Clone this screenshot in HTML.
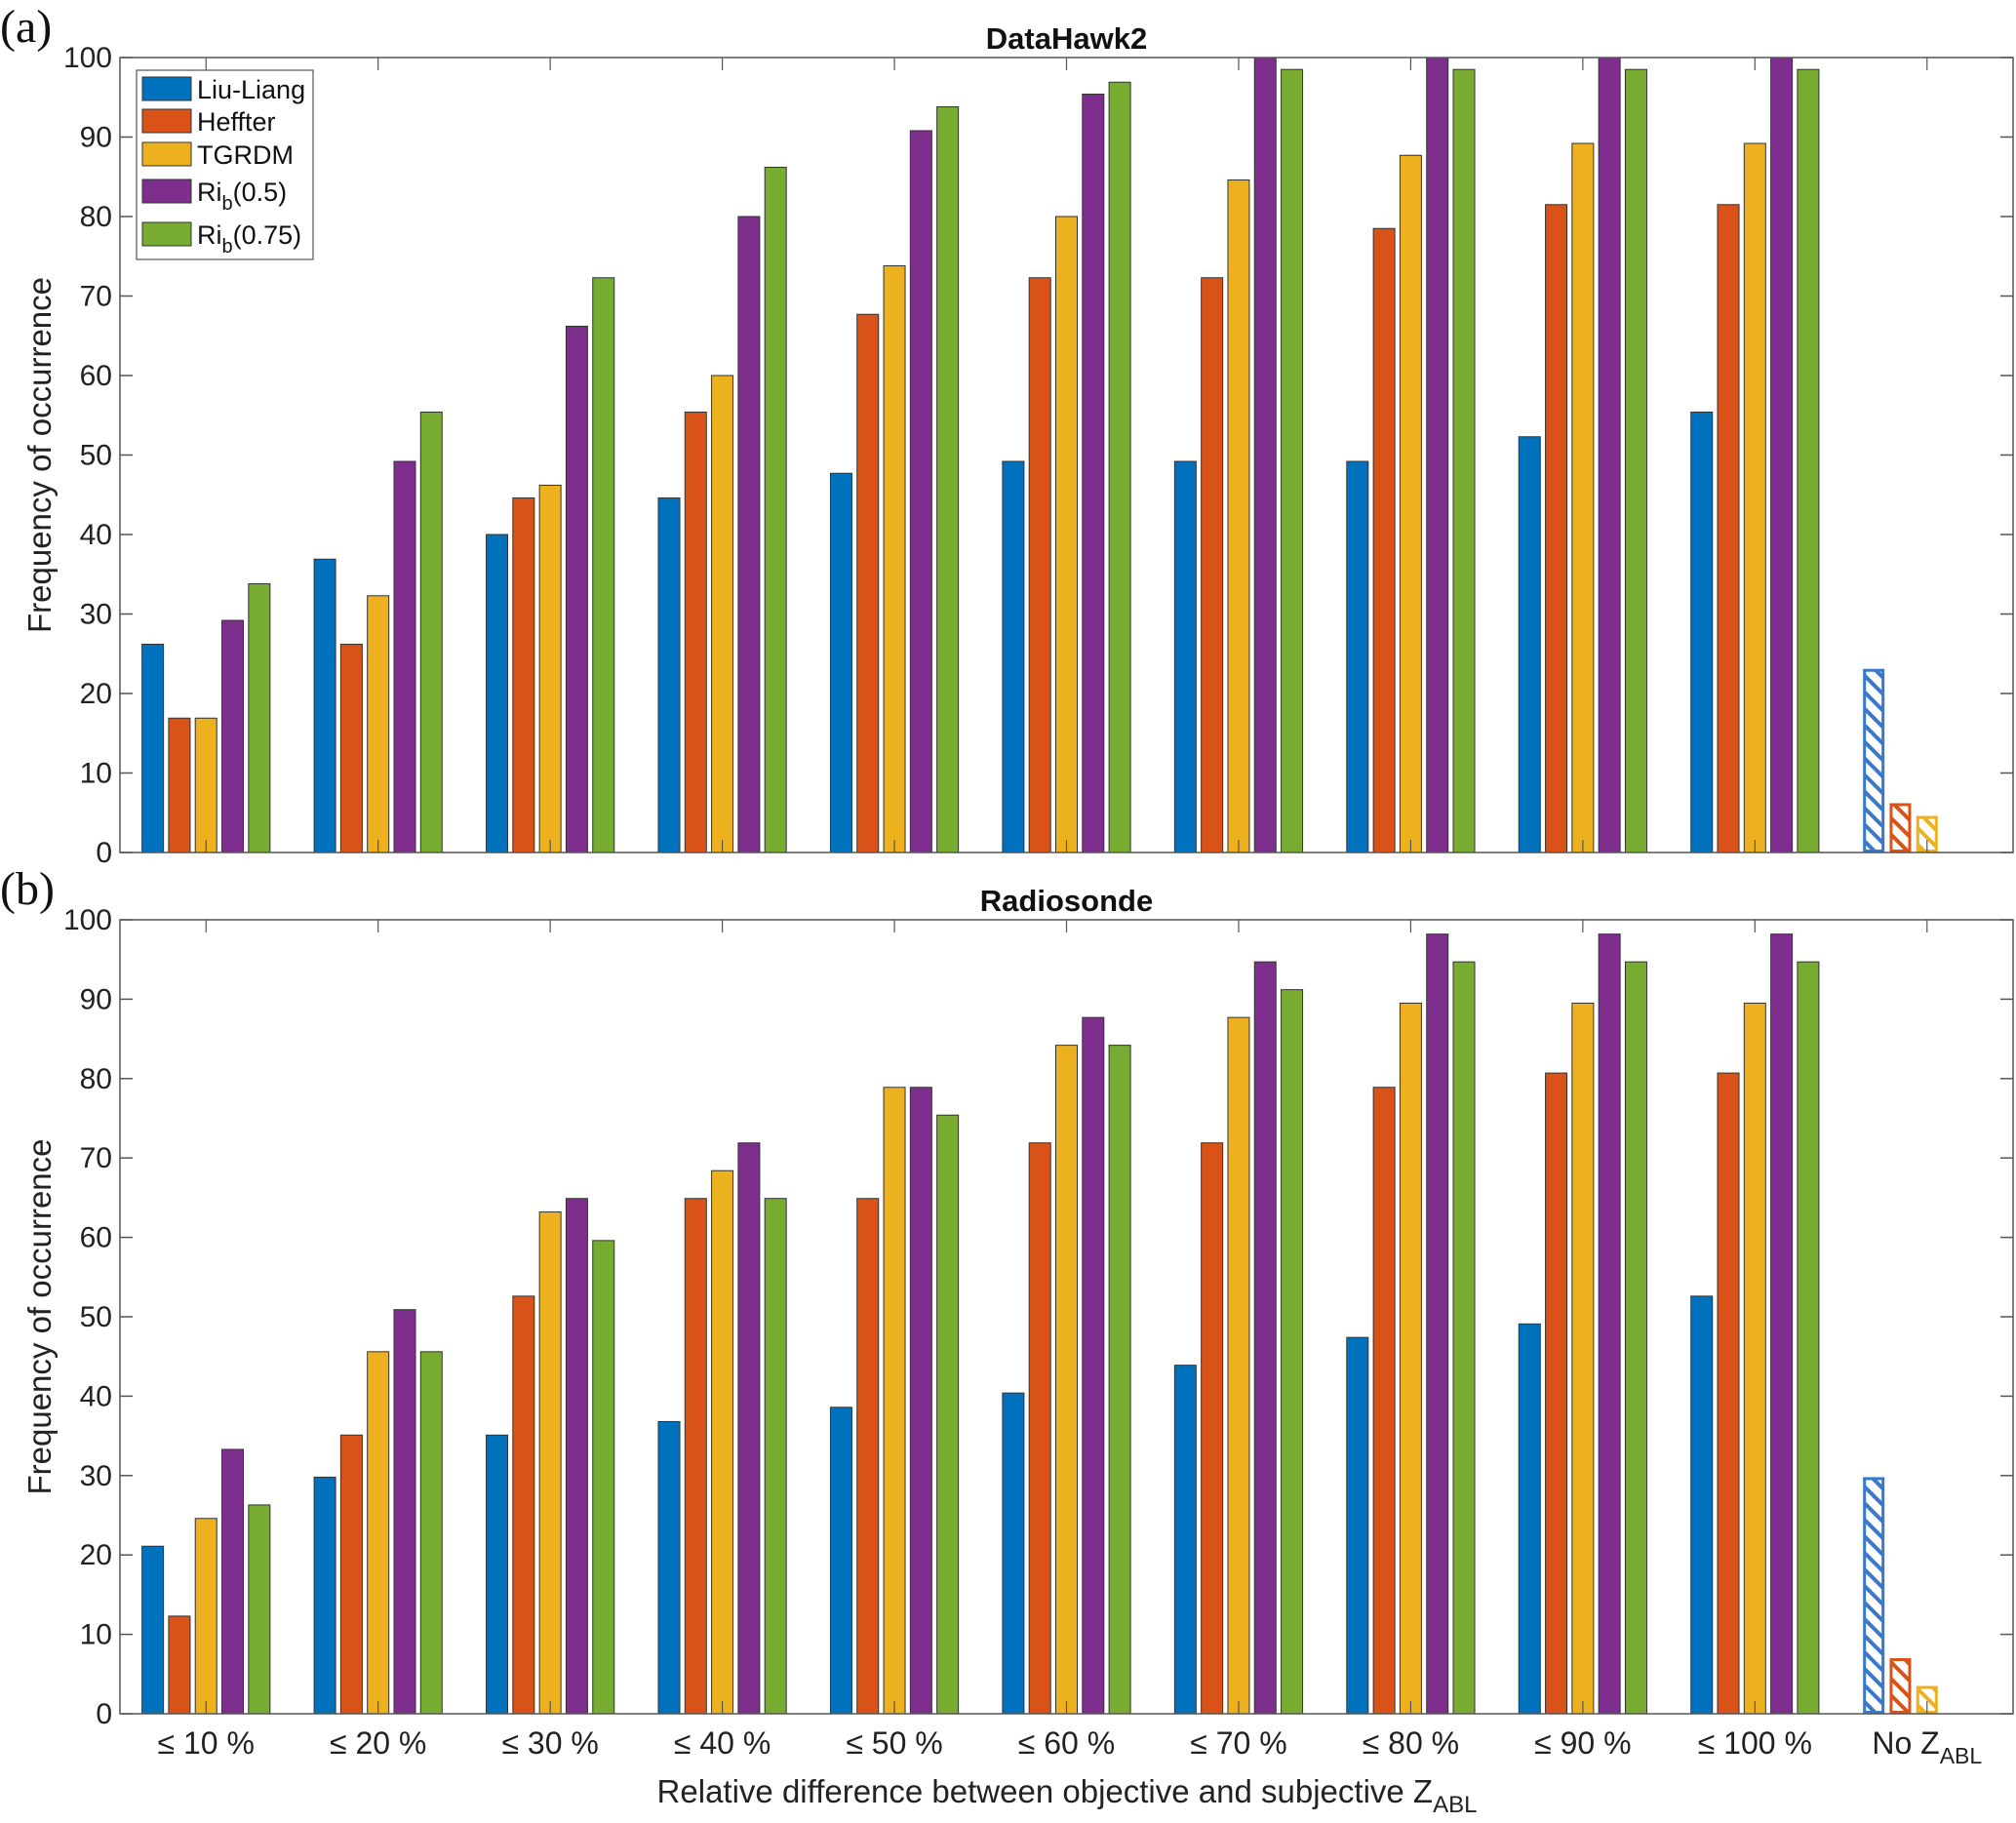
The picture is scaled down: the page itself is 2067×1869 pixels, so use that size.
<!DOCTYPE html>
<html><head><meta charset="utf-8"><style>
body{margin:0;background:#fff;}
svg{display:block;font-family:"Liberation Sans",sans-serif;}
</style></head><body>
<svg id="chart" width="2067" height="1869" viewBox="0 0 2067 1869" xmlns="http://www.w3.org/2000/svg">
<defs>
<pattern id="hatch-blue" patternUnits="userSpaceOnUse" width="12" height="12" patternTransform="rotate(45)"><rect width="12" height="12" fill="#fff"/><rect width="12" height="4" fill="#3a78c9"/></pattern>
<pattern id="hatch-orange" patternUnits="userSpaceOnUse" width="12" height="12" patternTransform="rotate(45)"><rect width="12" height="12" fill="#fff"/><rect width="12" height="4" fill="#D95319"/></pattern>
<pattern id="hatch-yellow" patternUnits="userSpaceOnUse" width="12" height="12" patternTransform="rotate(45)"><rect width="12" height="12" fill="#fff"/><rect width="12" height="4" fill="#EDB120"/></pattern>
</defs>
</svg>
<script>
const categories = ["≤ 10 %","≤ 20 %","≤ 30 %","≤ 40 %","≤ 50 %","≤ 60 %","≤ 70 %","≤ 80 %","≤ 90 %","≤ 100 %","No Z_ABL"];
const seriesNames = ["Liu-Liang","Heffter","TGRDM","Ri_b(0.5)","Ri_b(0.75)"];
const yTicks = [0,10,20,30,40,50,60,70,80,90,100];
// DataHawk2
const dhLiuLiang = [26.2,36.9,40.0,44.6,47.7,49.2,49.2,49.2,52.3,55.4];
const dhHeffter  = [16.9,26.2,44.6,55.4,67.7,72.3,72.3,78.5,81.5,81.5];
const dhTGRDM    = [16.9,32.3,46.2,60.0,73.8,80.0,84.6,87.7,89.2,89.2];
const dhRib05    = [29.2,49.2,66.2,80.0,90.8,95.4,100,100,100,100];
const dhRib075   = [33.8,55.4,72.3,86.2,93.8,96.9,98.5,98.5,98.5,98.5];
const dhNoZ      = [23.1,6.2,4.6];
// Radiosonde
const rsLiuLiang = [21.1,29.8,35.1,36.8,38.6,40.4,43.9,47.4,49.1,52.6];
const rsHeffter  = [12.3,35.1,52.6,64.9,64.9,71.9,71.9,78.9,80.7,80.7];
const rsTGRDM    = [24.6,45.6,63.2,68.4,78.9,84.2,87.7,89.5,89.5,89.5];
const rsRib05    = [33.3,50.9,64.9,71.9,78.9,87.7,94.7,98.2,98.2,98.2];
const rsRib075   = [26.3,45.6,59.6,64.9,75.4,84.2,91.2,94.7,94.7,94.7];
const rsNoZ      = [29.8,7.0,3.5];

const colors=["#0072BD","#D95319","#EDB120","#7E2F8E","#77AC30"];
const hatches=["url(#hatch-blue)","url(#hatch-orange)","url(#hatch-yellow)"];
const hatchEdge=["#3a78c9","#D95319","#EDB120"];
const svg=document.getElementById('chart');
const NS="http://www.w3.org/2000/svg";
function mk(tag,attrs,parent){const e=document.createElementNS(NS,tag);for(const k in attrs)e.setAttribute(k,attrs[k]);(parent||svg).appendChild(e);return e;}
const X0=123,X1=2064;
const xScale=i=>X0+(X1-X0)*(i+0.5)/categories.length;
const pitch=27.3,bw=22;

function panel(top,bottom,title,letter,series,noz,name){
  const g=mk('g',{});
  
  
  const y=v=>bottom-(bottom-top)*v/100;
  mk('rect',{x:X0,y:top,width:X1-X0,height:bottom-top,fill:'#fff',stroke:'none'},g);
  series.forEach((arr,s)=>{
    arr.forEach((v,i)=>{
      const cx=xScale(i)+(s-2)*pitch;
      const r=mk('rect',{x:cx-bw/2,y:y(v),width:bw,height:bottom-y(v),fill:colors[s],stroke:'#333','stroke-width':1},g);
      
      
    });
  });
  noz.forEach((v,s)=>{
    const cx=xScale(10)+(s-2)*pitch;
    const r=mk('rect',{x:cx-bw/2+1.5,y:y(v)+1.5,width:bw-3,height:bottom-y(v)-3,fill:hatches[s],stroke:hatchEdge[s],'stroke-width':3},g);
    
    
  });
  mk('rect',{x:X0,y:top,width:X1-X0,height:bottom-top,fill:'none',stroke:'#555','stroke-width':1.5},g);
  yTicks.forEach(t=>{
    mk('line',{x1:X0,x2:X0+13,y1:y(t),y2:y(t),stroke:'#555','stroke-width':1.5},g);
    mk('line',{x1:X1,x2:X1-13,y1:y(t),y2:y(t),stroke:'#555','stroke-width':1.5},g);
    const tl=mk('text',{x:115,y:y(t)+10,'text-anchor':'end','font-size':30,fill:'#222'},g);
    tl.textContent=t;
    
    
  });
  categories.forEach((c,i)=>{
    mk('line',{x1:xScale(i),x2:xScale(i),y1:bottom,y2:bottom-13,stroke:'#555','stroke-width':1.2},g);
    mk('line',{x1:xScale(i),x2:xScale(i),y1:top,y2:top+13,stroke:'#555','stroke-width':1.2},g);
  });
  const tt=mk('text',{x:(X0+X1)/2,y:top-9,'text-anchor':'middle','font-size':31,'font-weight':'bold',fill:'#111'},g);
  tt.textContent=title;
  
  
  const lt=mk('text',{x:0,y:top-16,'font-size':48,'font-family':'Liberation Serif, serif',fill:'#111'},g);
  lt.textContent=letter;
  
  
  const yl=mk('text',{x:0,y:0,transform:`translate(52,${(top+bottom)/2}) rotate(-90)`,'text-anchor':'middle','font-size':33,fill:'#222'},g);
  yl.textContent='Frequency of occurrence';
  
  
  return y;
}
panel(59,874,'DataHawk2','(a)',[dhLiuLiang,dhHeffter,dhTGRDM,dhRib05,dhRib075],dhNoZ,'panel-datahawk2');
panel(943,1757,'Radiosonde','(b)',[rsLiuLiang,rsHeffter,rsTGRDM,rsRib05,rsRib075],rsNoZ,'panel-radiosonde');

categories.forEach((c,i)=>{
  const t=mk('text',{x:xScale(i),y:1798,'text-anchor':'middle','font-size':32,fill:'#222'});
  if(c.startsWith('No')){
    t.innerHTML='No Z<tspan font-size="23" dy="10">ABL</tspan>';
  } else {
    t.textContent=c;
  }
  
  
});
const xt=mk('text',{x:1094,y:1848,'text-anchor':'middle','font-size':33,fill:'#222'});
xt.innerHTML='Relative difference between objective and subjective Z<tspan font-size="24" dy="10">ABL</tspan>';



const lg=mk('g',{});


mk('rect',{x:140,y:72,width:181,height:194,fill:'#fff',stroke:'#555','stroke-width':1.2},lg);
const rowsY=[91,124,158,196,240];
seriesNames.forEach((n,s)=>{
  const e=mk('g',{},lg);
  
  
  mk('rect',{x:146,y:rowsY[s]-12,width:50,height:24,fill:colors[s],stroke:'#333','stroke-width':1},e);
  const t=mk('text',{x:202,y:rowsY[s]+10,'font-size':27,fill:'#111'},e);
  if(n.startsWith('Ri_b')){
    t.innerHTML='Ri<tspan font-size="20" dy="9">b</tspan><tspan dy="-9">'+n.slice(4)+'</tspan>';
  } else t.textContent=n;
});
</script>
</body></html>
